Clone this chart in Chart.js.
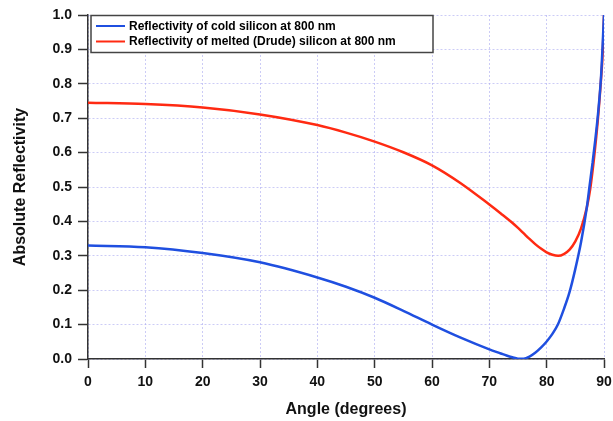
<!DOCTYPE html>
<html>
<head>
<meta charset="utf-8">
<script src="https://cdn.jsdelivr.net/npm/chart.js@4"></script>
<style>
  body { margin: 0; background: #fff; }
</style>
</head>
<body>
<canvas id="reflChart" width="613" height="421"></canvas>
<script>
// angles in degrees, reflectivity
const coldAngles = [0, 10, 20, 30, 40, 45, 50, 55, 60, 65, 70, 72, 73, 74, 75, 76, 77, 78, 79, 80, 81, 82, 83, 84, 85, 86, 87, 87.5, 88, 88.5, 89, 89.5, 90];
const coldRefl = [0.330, 0.325, 0.308, 0.281, 0.237, 0.210, 0.178, 0.140, 0.100, 0.062, 0.028, 0.016, 0.010, 0.005, 0.001, 0.001, 0.007, 0.018, 0.033, 0.051, 0.073, 0.102, 0.145, 0.195, 0.262, 0.340, 0.440, 0.505, 0.570, 0.640, 0.720, 0.825, 1.000];

const meltAngles = [0, 10, 20, 30, 40, 45, 50, 55, 60, 65, 70, 72, 74, 75, 76, 77, 78, 79, 80, 81, 82, 83, 84, 85, 86, 87, 87.6, 88.3, 88.9, 89.4, 89.8, 90];
const meltRefl = [0.745, 0.741, 0.731, 0.711, 0.680, 0.658, 0.632, 0.601, 0.563, 0.511, 0.449, 0.423, 0.396, 0.381, 0.365, 0.349, 0.334, 0.321, 0.310, 0.303, 0.300, 0.305, 0.318, 0.342, 0.380, 0.440, 0.495, 0.590, 0.690, 0.795, 0.900, 1.000];

const seriesLabels = ['Reflectivity of cold silicon at 800 nm', 'Reflectivity of melted (Drude) silicon at 800 nm'];
const xTicks = [0, 10, 20, 30, 40, 50, 60, 70, 80, 90];
const yTicks = [0.0, 0.1, 0.2, 0.3, 0.4, 0.5, 0.6, 0.7, 0.8, 0.9, 1.0];

const toPoints = (xs, ys) => xs.map((x, i) => ({ x: x, y: ys[i] }));

// boxed legend in the top-left corner of the plot
const boxLegend = {
  id: 'boxLegend',
  afterDatasetsDraw(chart) {
    const ctx = chart.ctx;
    const area = chart.chartArea;
    const x0 = area.left + 3, y0 = area.top + 0.5;
    ctx.save();
    ctx.fillStyle = '#fff';
    ctx.fillRect(x0, y0, 342, 37);
    ctx.strokeStyle = '#444';
    ctx.lineWidth = 1.5;
    ctx.strokeRect(x0, y0, 342, 37);
    ctx.font = 'bold 12px "Liberation Sans", Arial, sans-serif';
    ctx.textBaseline = 'middle';
    chart.data.datasets.forEach((ds, i) => {
      const y = y0 + 10.5 + i * 15.5;
      ctx.strokeStyle = ds.borderColor;
      ctx.lineWidth = 2;
      ctx.beginPath();
      ctx.moveTo(x0 + 5, y);
      ctx.lineTo(x0 + 34, y);
      ctx.stroke();
      ctx.fillStyle = '#000';
      ctx.fillText(ds.label, x0 + 38, y + 0.5);
    });
    ctx.restore();
  }
};

const gridColor = 'rgba(170, 170, 240, 0.6)';
const tickFont = { family: '"Liberation Sans", Arial, sans-serif', size: 14, weight: 'bold' };
const titleFont = { family: '"Liberation Sans", Arial, sans-serif', size: 16, weight: 'bold' };

new Chart(document.getElementById('reflChart'), {
  type: 'scatter',
  data: {
    datasets: [{
      label: seriesLabels[0],
      data: toPoints(coldAngles, coldRefl),
      showLine: true,
      borderColor: '#1f4fe0',
      borderWidth: 2.5,
      pointRadius: 0,
      cubicInterpolationMode: 'monotone'
    }, {
      label: seriesLabels[1],
      data: toPoints(meltAngles, meltRefl),
      showLine: true,
      borderColor: '#ff2a12',
      borderWidth: 2.5,
      pointRadius: 0,
      cubicInterpolationMode: 'monotone'
    }]
  },
  options: {
    responsive: false,
    animation: false,
    layout: { padding: { top: 15, right: 9, left: 0, bottom: 0 } },
    plugins: {
      legend: { display: false },
      tooltip: { enabled: false }
    },
    scales: {
      x: {
        type: 'linear',
        min: 0,
        max: 90,
        afterFit: s => { s.height = 62; s.paddingLeft = 0; s.paddingRight = 0; },
        afterBuildTicks: s => { s.ticks = xTicks.map(v => ({ value: v })); },
        ticks: { font: tickFont, color: '#111', padding: 6 },
        grid: { color: gridColor, lineWidth: 1, tickLength: 9, tickColor: '#333', tickWidth: 1.5 },
        border: { color: '#333', width: 1.5, dash: [2, 2] },
        title: { display: true, text: 'Angle (degrees)', font: titleFont, color: '#111', padding: { top: 0, bottom: 2 } }
      },
      y: {
        min: 0,
        max: 1,
        afterFit: s => { s.width = 88; s.paddingTop = 0; s.paddingBottom = 0; },
        afterBuildTicks: s => { s.ticks = yTicks.map(v => ({ value: v })); },
        ticks: { font: tickFont, color: '#111', padding: 6, callback: v => v.toFixed(1) },
        grid: { color: gridColor, lineWidth: 1, tickLength: 10, tickColor: '#333', tickWidth: 1.5 },
        border: { color: '#333', width: 1.5, dash: [2, 2] },
        title: { display: true, text: 'Absolute Reflectivity', font: titleFont, color: '#111', padding: { top: 11, bottom: 0 } }
      }
    }
  },
  plugins: [boxLegend]
});
</script>
</body>
</html>
